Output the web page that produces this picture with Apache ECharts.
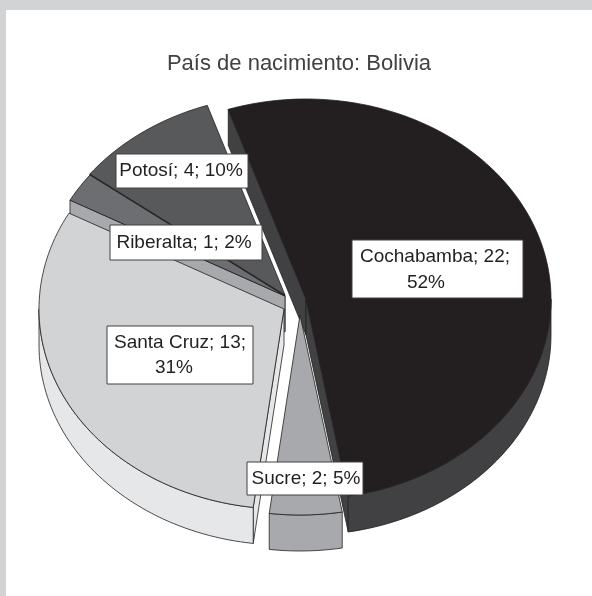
<!DOCTYPE html>
<html>
<head>
<meta charset="utf-8">
<script src="https://cdn.jsdelivr.net/npm/echarts@6/dist/echarts.min.js"></script>
<style>
html,body{margin:0;padding:0;background:#d1d3d4;}
#main{position:absolute;left:6px;top:10px;width:586px;height:586px;background:#fff;}
</style>
</head>
<body>
<div id="main"></div>
<script>
const categories = ['Cochabamba', 'Sucre', 'Santa Cruz', 'Riberalta', 'Potosí'];
const values = [22, 2, 13, 1, 4];
const percents = [52, 5, 31, 2, 10];

// page coords of each exploded slice's centre, same order as categories
const centers = [[306, 299], [300, 315], [284, 309], [285, 296], [285, 295]];
const topColors = ['#231f20', '#a7a9ac', '#d1d3d4', '#6d6e71', '#58595b'];
const wallColors = ['#414042', '#a7a9ac', '#e6e7e8', '#a7a9ac', '#231f20'];
const drawOrder = [4, 3, 2, 0, 1];

// label boxes [x, y, w, h], text lines are [centre x, centre y]
const labelBoxes = [[352, 240, 171, 58], [247, 462, 116, 33], [107, 326, 146, 58], [110, 225, 152, 35], [116, 154, 132, 34]];
const labelLines = [[[435, 257], [426, 283]], [[306, 479]], [[180, 343], [174, 368]], [[184, 243]], [[181, 171]]];

const rx = 245, ry = 200, depth = 36, startAngle = -18.5;
const panelX = 6, panelY = 10;

const total = values.reduce((a, b) => a + b, 0);
let acc = startAngle;
const spans = values.map(v => {
    const s = [acc, acc + v / total * 360];
    acc = s[1];
    return s;
});

function rimPoint(c, deg, dy) {
    const r = deg * Math.PI / 180;
    return [c[0] - panelX + rx * Math.sin(r), c[1] - panelY - ry * Math.cos(r) + dy];
}

function rim(c, from, to, dy) {
    const pts = [];
    for (let a = from; a < to; a += 1.5) pts.push(rimPoint(c, a, dy));
    pts.push(rimPoint(c, to, dy));
    return pts;
}

function sinDeg(a) {
    return Math.sin(a * Math.PI / 180);
}

function poly(points, fill) {
    return {
        type: 'polygon',
        shape: { points: points },
        style: { fill: fill, stroke: '#231f20', lineWidth: 0.8, lineJoin: 'round' }
    };
}

function sliceShapes(i) {
    const c = centers[i], span = spans[i];
    const apex = [c[0] - panelX, c[1] - panelY];
    const apexLow = [apex[0], apex[1] + depth];
    const wall = wallColors[i];
    const out = [];
    // radial walls only where the cut face looks towards the viewer
    if (sinDeg(span[0]) < 0) {
        out.push(poly([apex, rimPoint(c, span[0], 0), rimPoint(c, span[0], depth), apexLow], wall));
    }
    if (sinDeg(span[1]) > 0) {
        out.push(poly([apex, rimPoint(c, span[1], 0), rimPoint(c, span[1], depth), apexLow], wall));
    }
    // outer wall only on the front half of the ellipse
    const from = Math.max(span[0], 90), to = Math.min(span[1], 270);
    if (from < to) {
        const band = rim(c, from, to, 0).concat(rim(c, from, to, depth).reverse());
        out.push(poly(band, wall));
    }
    out.push(poly([apex].concat(rim(c, span[0], span[1], 0)), topColors[i]));
    return out;
}

function labelShapes(i) {
    const box = labelBoxes[i];
    const text = categories[i] + '; ' + values[i] + '; ' + percents[i] + '%';
    // the two long labels wrap after the value
    const lines = labelLines[i].length > 1
        ? [categories[i] + '; ' + values[i] + ';', percents[i] + '%']
        : [text];
    const out = [{
        type: 'rect',
        shape: { x: box[0] - panelX, y: box[1] - panelY, width: box[2], height: box[3] },
        style: { fill: '#fff', stroke: '#414042', lineWidth: 1 }
    }];
    lines.forEach((t, k) => {
        out.push({
            type: 'text',
            style: {
                text: t,
                x: labelLines[i][k][0] - panelX,
                y: labelLines[i][k][1] - panelY,
                align: 'center',
                verticalAlign: 'middle',
                fill: '#231f20',
                font: '19px "Liberation Sans", Arial, sans-serif'
            }
        });
    });
    return out;
}

var myChart = echarts.init(document.getElementById('main'));
let option = {
    animation: false,
    title: {
        text: 'País de nacimiento: Bolivia',
        left: 'center',
        top: 38,
        textStyle: {
            color: '#414042',
            fontWeight: 'normal',
            fontSize: 22,
            fontFamily: '"Liberation Sans", Arial, sans-serif'
        }
    },
    series: [
        {
            type: 'custom',
            coordinateSystem: 'none',
            silent: true,
            data: drawOrder.map(i => [i, values[i]]),
            renderItem: function (params, api) {
                return { type: 'group', children: sliceShapes(api.value(0)) };
            }
        },
        {
            type: 'custom',
            coordinateSystem: 'none',
            silent: true,
            z: 5,
            data: drawOrder.map(i => [i, values[i]]),
            renderItem: function (params, api) {
                return { type: 'group', children: labelShapes(api.value(0)) };
            }
        }
    ]
};
myChart.setOption(option);
</script>
</body>
</html>
